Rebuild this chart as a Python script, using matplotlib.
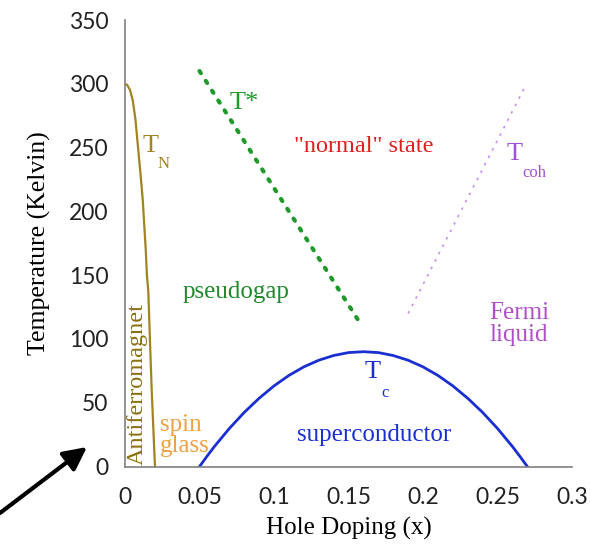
import matplotlib.pyplot as plt
import numpy as np

# values
tn_x = [0.0, 0.0015, 0.0034, 0.0052, 0.0070, 0.0089, 0.0105, 0.0119, 0.0139, 0.0147, 0.0156, 0.0167, 0.0179, 0.0190, 0.0201]
tn_y = [300, 299, 295, 287, 272, 248, 228, 209, 170, 150, 138, 100, 60, 30, 0]

tstar_x = [0.050, 0.158]
tstar_y = [310, 112]

tcoh_x = [0.190, 0.2695]
tcoh_y = [120, 300]

tc_x = [0.050, 0.055, 0.060, 0.070, 0.080, 0.090, 0.100, 0.110, 0.120, 0.130, 0.140, 0.150, 0.160,
        0.170, 0.180, 0.190, 0.200, 0.210, 0.220, 0.230, 0.240, 0.250, 0.260, 0.265, 0.270]
tc_y = [0, 8, 15.7, 29.8, 42.4, 53.5, 63.2, 71.4, 78.1, 83.3, 87.0, 89.3, 90.0,
        89.3, 87.0, 83.3, 78.1, 71.4, 63.2, 53.5, 42.4, 29.8, 15.7, 8, 0]

xticks = [0, 0.05, 0.1, 0.15, 0.2, 0.25, 0.3]
xtick_labels = ["0", "0.05", "0.1", "0.15", "0.2", "0.25", "0.3"]
yticks = [0, 50, 100, 150, 200, 250, 300, 350]

serif = "Liberation Serif"

fig = plt.figure(figsize=(5.9, 5.48), dpi=100)
ax = fig.add_axes([0.2119, 0.1487, 0.7576, 0.8148])

ax.plot(tn_x, tn_y, color="#a08420", lw=1.6)
ax.plot(tstar_x, tstar_y, color="#1f9a2a", lw=3, linestyle=(0, (0.6, 2.2)), dash_capstyle="round")
ax.plot(tcoh_x, tcoh_y, color="#c78cf0", lw=1.2, linestyle=(0, (1.5, 3.5)))
ax.plot(tc_x, tc_y, color="#1a2fd0", lw=2)

ax.set_xlim(0, 0.3)
ax.set_ylim(0, 350)
ax.set_xticks(xticks)
ax.set_xticklabels(xtick_labels)
ax.set_yticks(yticks)
for s in ["top", "right"]:
    ax.spines[s].set_visible(False)
for s in ["left", "bottom"]:
    ax.spines[s].set_color("#808080")
    ax.spines[s].set_linewidth(1.2)
ax.tick_params(length=0, labelsize=16.5, colors="#222222")
ax.tick_params(axis="x", pad=15)
ax.tick_params(axis="y", pad=12)
for lab in ax.get_xticklabels() + ax.get_yticklabels():
    lab.set_fontfamily("Lato")

ax.set_xlabel("Hole Doping (x)", fontfamily=serif, fontsize=18, labelpad=6)
ax.set_ylabel("Temperature (Kelvin)", fontfamily=serif, fontsize=18.5, labelpad=13)

# annotations
ax.text(0.0121, 251, "T", color="#a08420", fontfamily=serif, fontsize=19, ha="left", va="center")
ax.text(0.0221, 237, "N", color="#a08420", fontfamily=serif, fontsize=12, ha="left", va="center")
ax.text(0.0705, 285, "T*", color="#1f9a2a", fontfamily=serif, fontsize=19, ha="left", va="center")
ax.text(0.160, 251, "\"normal\" state", color="#e02020", fontfamily=serif, fontsize=17.5, ha="center", va="center")
ax.text(0.2564, 245, "T", color="#a050d8", fontfamily=serif, fontsize=19, ha="left", va="center")
ax.text(0.2664, 230, "coh", color="#a050d8", fontfamily=serif, fontsize=12, ha="left", va="center")
ax.text(0.0383, 137, "pseudogap", color="#1f8a2a", fontfamily=serif, fontsize=18, ha="left", va="center")
ax.text(0.2644, 112, "Fermi\nliquid", color="#b050c8", fontfamily=serif, fontsize=18, ha="center", va="center",
        linespacing=1.0)
ax.text(0.161, 74, "T", color="#1a2fd0", fontfamily=serif, fontsize=19, ha="left", va="center")
ax.text(0.1718, 58, "c", color="#1a2fd0", fontfamily=serif, fontsize=12, ha="left", va="center")
ax.text(0.167, 25, "superconductor", color="#1a2fd0", fontfamily=serif, fontsize=18, ha="center", va="center")
ax.text(0.0235, 24, "spin\nglass", color="#f0a040", fontfamily=serif, fontsize=18, ha="left", va="center",
        linespacing=0.95)
ax.text(0.0084, 1, "Antiferromagnet", color="#8a7010", fontfamily=serif, fontsize=17.5, rotation=90,
        ha="center", va="bottom")

# arrow pointing at the origin region
ax.annotate("", xy=(87 / 590, 1 - 447 / 548), xytext=(0 / 590, 1 - 513 / 548),
            xycoords="figure fraction", textcoords="figure fraction",
            arrowprops=dict(arrowstyle="-|>,head_length=1.4,head_width=0.7", color="black", lw=3,
                            shrinkA=0, shrinkB=0))

plt.savefig("out.png", dpi=100)
